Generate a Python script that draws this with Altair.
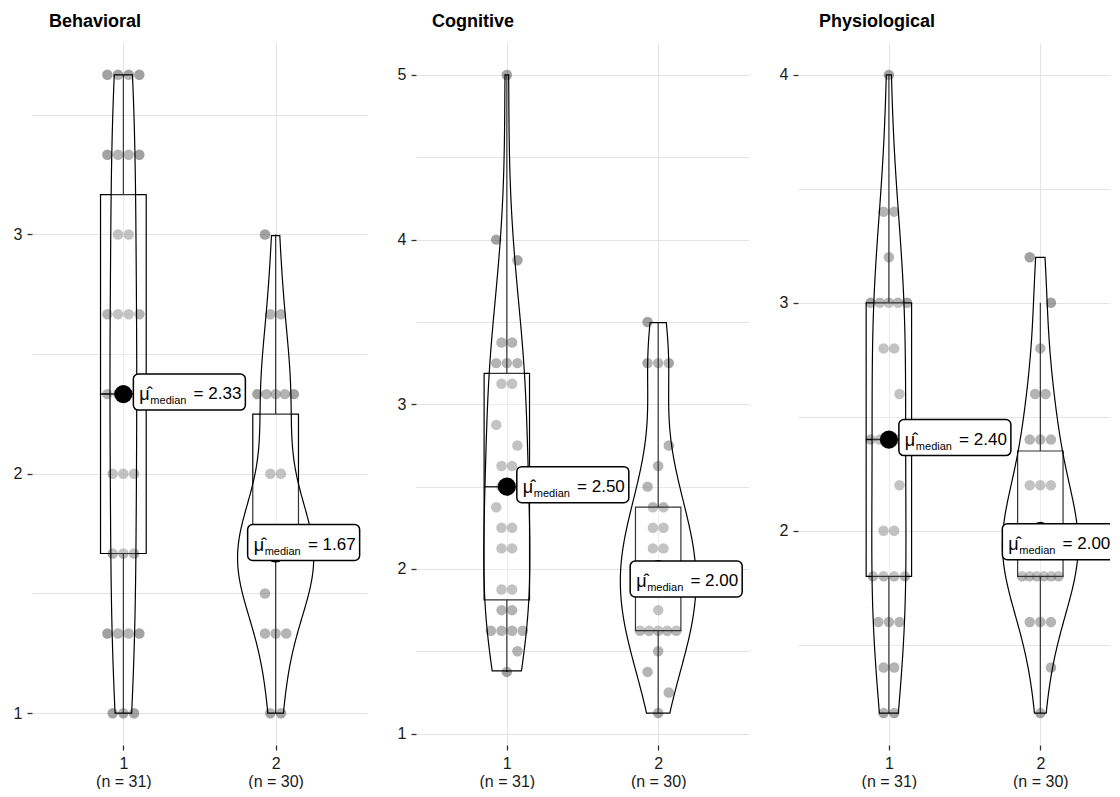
import altair as alt
import pandas as pd

# ---------------- data ----------------
panel_titles = ["Behavioral", "Cognitive", "Physiological"]

behavioral_g1 = [1.0, 1.0, 1.0, 1.333, 1.333, 1.333, 1.333, 1.667, 1.667, 1.667,
                 2.0, 2.0, 2.0, 2.333, 2.333, 2.333, 2.333, 2.667, 2.667, 2.667, 2.667,
                 3.0, 3.0, 3.333, 3.333, 3.333, 3.333, 3.667, 3.667, 3.667, 3.667]
behavioral_g2 = [1.0, 1.0, 1.333, 1.333, 1.333, 1.5,
                 1.667, 1.667, 1.667, 1.667, 1.667, 1.667, 1.667, 1.667, 1.667, 1.667,
                 1.667, 1.667, 1.667, 1.667, 2.0, 2.0, 2.333, 2.333, 2.333, 2.333, 2.333,
                 2.667, 2.667, 3.0]

cognitive_g1 = [1.375, 1.5, 1.625, 1.625, 1.625, 1.625, 1.75, 1.75, 1.875, 1.875,
                2.125, 2.125, 2.25, 2.25, 2.375, 2.5, 2.5, 2.625, 2.625, 2.75, 2.875,
                3.125, 3.125, 3.25, 3.25, 3.25, 3.375, 3.375, 3.875, 4.0, 5.0]
cognitive_g2 = [1.125, 1.25, 1.375, 1.5, 1.625, 1.625, 1.625, 1.625, 1.625, 1.75,
                1.875, 1.875, 2.0, 2.0, 2.0, 2.0, 2.0, 2.125, 2.125, 2.25, 2.25,
                2.375, 2.375, 2.5, 2.625, 2.75, 3.25, 3.25, 3.25, 3.5]

physiological_g1 = [1.2, 1.2, 1.4, 1.4, 1.6, 1.6, 1.6, 1.8, 1.8, 1.8, 1.8, 2.0, 2.0,
                    2.2, 2.4, 2.4, 2.4, 2.4, 2.4, 2.6, 2.8, 2.8, 3.0, 3.0, 3.0, 3.0,
                    3.0, 3.2, 3.4, 3.4, 4.0]
physiological_g2 = [1.2, 1.4, 1.6, 1.6, 1.6, 1.8, 1.8, 1.8, 1.8, 1.8, 1.8,
                    2.0, 2.0, 2.0, 2.0, 2.0, 2.0, 2.0, 2.0, 2.2, 2.2, 2.2,
                    2.4, 2.4, 2.4, 2.6, 2.6, 2.8, 3.0, 3.2]

panel_groups = [(behavioral_g1, behavioral_g2),
                (cognitive_g1, cognitive_g2),
                (physiological_g1, physiological_g2)]

y_domains = [[0.867, 3.8], [0.931, 5.194], [1.06, 4.14]]
y_tick_values = [[1, 1.5, 2, 2.5, 3, 3.5],
                 [1, 1.5, 2, 2.5, 3, 3.5, 4, 4.5, 5],
                 [1.5, 2, 2.5, 3, 3.5, 4]]
x_tick_values = [1, 2]

# ---------------- style ----------------
FONT = "Liberation Sans"
GRID = "#e3e3e3"
PANEL_W = [335, 333, 312]
X_DOMAINS = [[0.4, 2.6], [0.4, 2.6], [0.4, 2.46]]
PANEL_H = 702
TITLE_DX = [17, 16, 21]
G2_LABEL_DX = [-28, -28, -38]
G2_LABEL_DY = [-11, 10, 11]


def make_panel(i):
    g1, g2 = panel_groups[i]
    df = pd.DataFrame({"group": [1] * len(g1) + [2] * len(g2), "value": g1 + g2})
    label_expr = (f"datum.value == 1 ? ['1', '(n = {len(g1)})'] : "
                  f"['2', '(n = {len(g2)})']")
    xs = alt.Scale(domain=X_DOMAINS[i], nice=False, zero=False)
    ys = alt.Scale(domain=y_domains[i], nice=False, zero=False)
    xax = alt.Axis(values=x_tick_values, title=None, labelExpr=label_expr, grid=True,
                   gridColor=GRID, gridWidth=1, domain=False, tickSize=5,
                   tickColor="#333333", tickWidth=1.3, labelFont=FONT, labelFontSize=16,
                   labelColor="#1a1a1a", labelPadding=5, labelLineHeight=18,
                   labelFlush=False, labelOverlap=False)
    yax = alt.Axis(values=y_tick_values[i], title=None,
                   labelExpr="datum.value % 1 == 0 ? format(datum.value, 'd') : ''",
                   grid=True, gridColor=GRID, gridWidth=1, domain=False, tickSize=5,
                   tickColor="#333333", tickWidth=1.3,
                   tickOpacity={"condition": {"test": "datum.value % 1 == 0", "value": 1},
                                "value": 0},
                   labelFont=FONT, labelFontSize=16, labelColor="#1a1a1a",
                   labelPadding=5, labelOverlap=False)

    def X(f):
        return alt.X(f, type="quantitative", scale=xs, axis=xax)

    def Y(f):
        return alt.Y(f, type="quantitative", scale=ys, axis=yax)

    base = alt.Chart(df)

    points = base.transform_joinaggregate(
        cnt="count()", groupby=["group", "value"]
    ).transform_window(
        r="row_number()", groupby=["group", "value"]
    ).transform_window(
        gi="row_number()", groupby=["group"], sort=[alt.SortField("value", order="ascending")]
    ).transform_calculate(
        xj="datum.cnt > 1 ? datum.group + (datum.r - (datum.cnt + 1) / 2) * "
           "min(0.07, 0.24 / (datum.cnt - 1)) : datum.group + ((datum.gi % 3) - 1) * 0.07"
    ).mark_circle(size=110, color="#454545", opacity=0.5).encode(x=X("xj"), y=Y("value"))

    stats = base.transform_aggregate(
        q1="q1(value)", q3="q3(value)", med="median(value)", groupby=["group"]
    ).transform_calculate(
        bl="datum.group - 0.15", br="datum.group + 0.15",
        lab="'= ' + format(datum.med, '.2f')"
    )

    box = stats.mark_rect(fill="white", fillOpacity=0.2, stroke="black",
                          strokeWidth=1.2).encode(x=X("bl"), x2="br", y=Y("q1"), y2="q3")
    medline = stats.mark_rule(color="black", strokeWidth=1.5).encode(
        x=X("bl"), x2="br", y=Y("med"))

    wb = base.transform_joinaggregate(
        jq1="q1(value)", jq3="q3(value)", groupby=["group"]
    ).transform_filter(
        "datum.value >= datum.jq1 - 1.5 * (datum.jq3 - datum.jq1) && "
        "datum.value <= datum.jq3 + 1.5 * (datum.jq3 - datum.jq1)"
    ).transform_aggregate(
        wlo="min(value)", whi="max(value)", q1="min(jq1)", q3="min(jq3)", groupby=["group"]
    )
    wup = wb.mark_rule(color="black", strokeWidth=1.2).encode(x=X("group"), y=Y("q3"), y2="whi")
    wdn = wb.mark_rule(color="black", strokeWidth=1.2).encode(x=X("group"), y=Y("wlo"), y2="q1")

    violin = base.transform_joinaggregate(
        gmin="min(value)", gmax="max(value)", groupby=["group"]
    ).transform_density(
        "value", as_=["value", "density"], groupby=["group", "gmin", "gmax"], steps=500
    ).transform_filter(
        "datum.value >= datum.gmin - 1e-9 && datum.value <= datum.gmax + 1e-9"
    ).transform_joinaggregate(
        maxd="max(density)"
    ).transform_calculate(
        vl="datum.group - 0.25 * datum.density / datum.maxd",
        vr="datum.group + 0.25 * datum.density / datum.maxd"
    ).mark_area(orient="horizontal", fill="white", fillOpacity=0.2, stroke="black",
                strokeWidth=1.2).encode(y=Y("value"), x=X("vl"), x2="vr", detail="group:N")

    medpt = stats.mark_circle(size=330, color="black", opacity=1).encode(
        x=X("group"), y=Y("med"))

    def label_layers(g, xo, yo):
        s = stats.transform_filter(f"datum.group == {g}")
        rect = s.mark_rect(xOffset=xo, x2Offset=xo + 112, yOffset=yo - 18,
                           y2Offset=yo + 18, cornerRadius=5, fill="white",
                           stroke="black", strokeWidth=1.5, clip=True).encode(
            x=X("group"), x2="group", y=Y("med"), y2="med")
        mu = s.mark_text(text="\u03bc\u0302", align="left", baseline="alphabetic",
                         dx=xo + 6, dy=yo + 8, font=FONT, fontSize=18,
                         color="black").encode(x=X("group"), y=Y("med"))
        sub = s.mark_text(text="median", align="left", baseline="alphabetic", dx=xo + 17,
                          dy=yo + 12, font=FONT, fontSize=11, color="black").encode(
            x=X("group"), y=Y("med"))
        val = s.mark_text(align="right", baseline="alphabetic", dx=xo + 108, dy=yo + 7,
                          font=FONT, fontSize=17, color="black").encode(
            x=X("group"), y=Y("med"), text="lab:N")
        return [rect, mu, sub, val]

    layers = [points, box, medline, wup, wdn, violin, medpt]
    layers += label_layers(1, 10, -2)
    layers += label_layers(2, G2_LABEL_DX[i], G2_LABEL_DY[i])

    return alt.layer(*layers).properties(
        width=PANEL_W[i], height=PANEL_H,
        title=alt.TitleParams(panel_titles[i], anchor="start", frame="group",
                              dx=TITLE_DX[i], fontSize=18, fontWeight="bold", font=FONT,
                              offset=12, color="black"))


chart = alt.hconcat(*[make_panel(i) for i in range(3)], spacing=30).resolve_scale(
    x="independent", y="independent"
).properties(
    padding={"left": 5, "top": 5, "right": 0, "bottom": 0}, background="white"
).configure(font=FONT).configure_view(stroke=None)

chart.save("out.html", embed_options={"renderer": "svg", "actions": False})
